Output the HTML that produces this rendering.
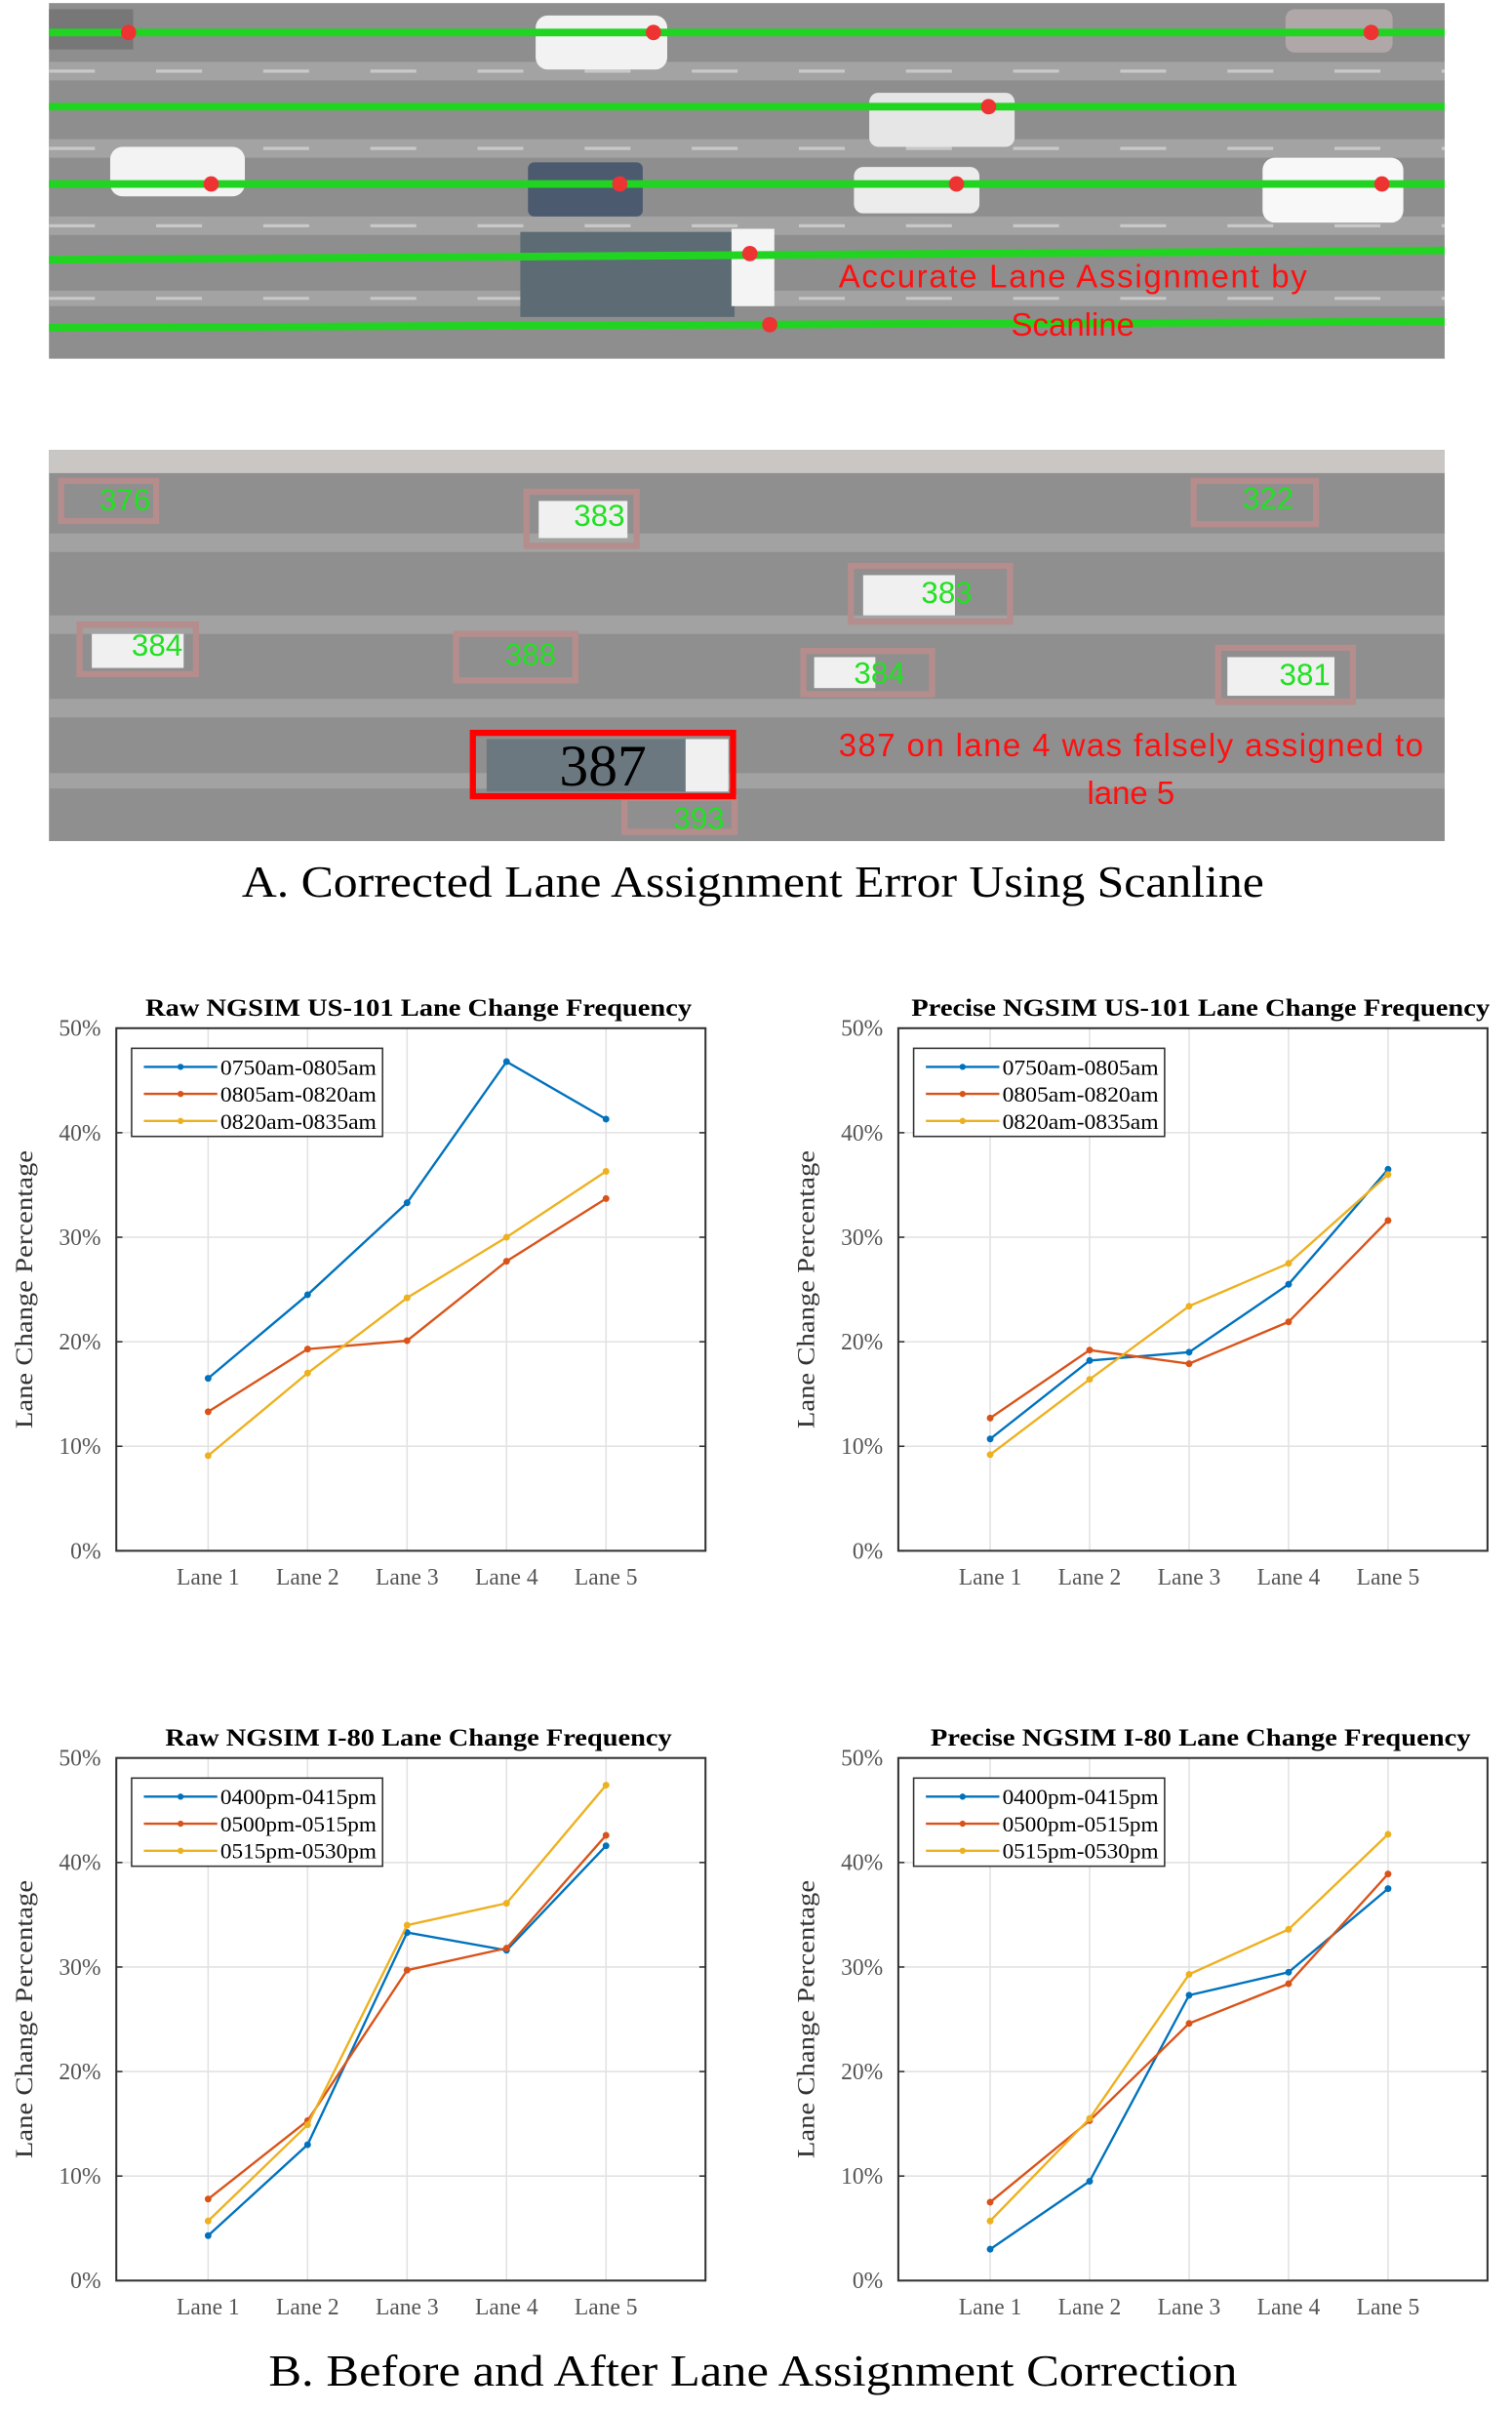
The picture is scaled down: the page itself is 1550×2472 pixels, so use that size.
<!DOCTYPE html>
<html><head><meta charset="utf-8"><style>
html,body{margin:0;padding:0;background:#fff;width:1550px;height:2472px;overflow:hidden}
svg{display:block}
</style></head><body>
<svg id="root" width="1550" height="2472" viewBox="0 0 988 1560" preserveAspectRatio="none" xmlns="http://www.w3.org/2000/svg">
<g id="photoA">
<rect x="32" y="2" width="912" height="230" fill="#8e8e8e"/>
<g fill="#a3a3a3">
<rect x="32" y="40" width="912" height="12"/><rect x="32" y="90" width="912" height="12"/><rect x="32" y="140" width="912" height="12"/><rect x="32" y="188" width="912" height="10"/>
</g>
<g stroke="#c8c8c8" stroke-width="2" stroke-dasharray="30 40">
<line x1="32" y1="46" x2="944" y2="46"/><line x1="32" y1="96" x2="944" y2="96"/><line x1="32" y1="146" x2="944" y2="146"/><line x1="32" y1="193" x2="944" y2="193"/>
</g>
<rect x="350" y="10" width="86" height="35" rx="8" fill="#f2f2f2"/>
<rect x="568" y="60" width="95" height="35" rx="6" fill="#e6e6e6"/>
<rect x="72" y="95" width="88" height="32" rx="8" fill="#f3f3f3"/>
<rect x="345" y="105" width="75" height="35" rx="4" fill="#4c5a70"/>
<rect x="558" y="108" width="82" height="30" rx="6" fill="#ececec"/>
<rect x="825" y="102" width="92" height="42" rx="8" fill="#f8f8f8"/>
<rect x="340" y="150" width="140" height="55" fill="#5d6c74"/>
<rect x="478" y="148" width="28" height="50" fill="#f4f4f4"/>
<rect x="840" y="6" width="70" height="28" rx="6" fill="#b0a8a8"/>
<rect x="32" y="6" width="55" height="26" fill="#777"/>
<g stroke="#22d422" stroke-width="5">
<line x1="32" y1="21" x2="944" y2="21"/><line x1="32" y1="69" x2="944" y2="69"/><line x1="32" y1="119" x2="944" y2="119"/><line x1="32" y1="168" x2="944" y2="162"/><line x1="32" y1="212" x2="944" y2="208"/>
</g>
<g fill="#e33">
<circle cx="84" cy="21" r="5"/><circle cx="427" cy="21" r="5"/><circle cx="896" cy="21" r="5"/><circle cx="646" cy="69" r="5"/><circle cx="138" cy="119" r="5"/><circle cx="405" cy="119" r="5"/><circle cx="625" cy="119" r="5"/><circle cx="903" cy="119" r="5"/><circle cx="490" cy="164" r="5"/><circle cx="503" cy="210" r="5"/>
</g>
<text x="701" y="186" font-family="Liberation Sans, sans-serif" font-size="21" fill="#ff1010" text-anchor="middle" textLength="306">Accurate Lane Assignment by</text>
<text x="701" y="217" font-family="Liberation Sans, sans-serif" font-size="21" fill="#ff1010" text-anchor="middle">Scanline</text>
</g>
<g id="photoB">
<rect x="32" y="291" width="912" height="253" fill="#8f8f8f"/>
<rect x="32" y="291" width="912" height="15" fill="#c9c6c4"/>
<g fill="#a2a2a2"><rect x="32" y="345" width="912" height="12"/><rect x="32" y="398" width="912" height="12"/><rect x="32" y="452" width="912" height="12"/><rect x="32" y="500" width="912" height="10"/></g>
<g fill="none" stroke="#b58d8d" stroke-width="4">
<rect x="40" y="311" width="62" height="26"/><rect x="344" y="318" width="72" height="35"/><rect x="780" y="311" width="80" height="28"/><rect x="556" y="366" width="104" height="36"/><rect x="52" y="404" width="76" height="32"/><rect x="298" y="410" width="78" height="30"/><rect x="525" y="421" width="84" height="28"/><rect x="796" y="419" width="88" height="35"/><rect x="408" y="516" width="72" height="22"/>
</g>
<g fill="#f0f0f0"><rect x="352" y="324" width="58" height="24"/><rect x="564" y="372" width="60" height="26"/><rect x="60" y="410" width="60" height="22"/><rect x="532" y="425" width="40" height="20"/><rect x="802" y="425" width="70" height="25"/></g>
<g font-family="Liberation Sans, sans-serif" font-size="20" fill="#22e022">
<text x="65" y="330">376</text><text x="375" y="340">383</text><text x="812" y="329">322</text><text x="602" y="390">383</text><text x="86" y="424">384</text><text x="330" y="430">388</text><text x="558" y="442">384</text><text x="836" y="443">381</text><text x="440" y="536">393</text>
</g>
<rect x="318" y="478" width="158" height="34" fill="#6c7880"/><rect x="448" y="478" width="28" height="34" fill="#f0f0f0"/>
<rect x="309" y="474" width="170" height="41" fill="none" stroke="#f00" stroke-width="4"/>
<text x="394" y="508" font-family="Liberation Serif, serif" font-size="38" fill="#000" text-anchor="middle">387</text>
<text x="739" y="489" font-family="Liberation Sans, sans-serif" font-size="21" fill="#ff1010" text-anchor="middle" textLength="382">387 on lane 4 was falsely assigned to</text>
<text x="739" y="520" font-family="Liberation Sans, sans-serif" font-size="21" fill="#ff1010" text-anchor="middle">lane 5</text>
</g>
<text x="492" y="580" font-family="Liberation Serif, serif" font-size="29" text-anchor="middle" textLength="668" lengthAdjust="spacingAndGlyphs">A. Corrected Lane Assignment Error Using Scanline</text>
<text x="492" y="1543" font-family="Liberation Serif, serif" font-size="29" text-anchor="middle" textLength="633" lengthAdjust="spacingAndGlyphs">B.  Before and After Lane Assignment Correction</text>
<g id="charts"></g>
</svg>
<script>
const lanes = ["Lane 1","Lane 2","Lane 3","Lane 4","Lane 5"];
const yTicks = [0,10,20,30,40,50];
const colors = ["#0072BD","#D95319","#EDB120"];
const titles = ["Raw NGSIM US-101 Lane Change Frequency","Precise NGSIM US-101 Lane Change Frequency","Raw NGSIM I-80 Lane Change Frequency","Precise NGSIM I-80 Lane Change Frequency"];
const titleLens = [357,378,331,353];
const legendAM = ["0750am-0805am","0805am-0820am","0820am-0835am"];
const legendPM = ["0400pm-0415pm","0500pm-0515pm","0515pm-0530pm"];
const raw101Blue = [16.5,24.5,33.3,46.8,41.3];
const raw101Orange = [13.3,19.3,20.1,27.7,33.7];
const raw101Yellow = [9.1,17.0,24.2,30.0,36.3];
const pre101Blue = [10.7,18.2,19.0,25.5,36.5];
const pre101Orange = [12.7,19.2,17.9,21.9,31.6];
const pre101Yellow = [9.2,16.4,23.4,27.5,36.0];
const rawI80Blue = [4.3,13.0,33.3,31.6,41.6];
const rawI80Orange = [7.8,15.3,29.7,31.8,42.6];
const rawI80Yellow = [5.7,14.9,34.0,36.1,47.4];
const preI80Blue = [3.0,9.5,27.3,29.5,37.5];
const preI80Orange = [7.5,15.3,24.6,28.4,38.9];
const preI80Yellow = [5.7,15.5,29.3,33.6,42.7];

const NS="http://www.w3.org/2000/svg";
function mk(tag, attrs, parent){const e=document.createElementNS(NS,tag);for(const k in attrs)e.setAttribute(k,attrs[k]);parent.appendChild(e);return e;}
const root=document.getElementById('charts');
const panels=[
 {x:76,y:665,series:[raw101Blue,raw101Orange,raw101Yellow],leg:legendAM,name:'raw-us101-chart'},
 {x:587,y:665,series:[pre101Blue,pre101Orange,pre101Yellow],leg:legendAM,name:'precise-us101-chart'},
 {x:76,y:1137,series:[rawI80Blue,rawI80Orange,rawI80Yellow],leg:legendPM,name:'raw-i80-chart'},
 {x:587,y:1137,series:[preI80Blue,preI80Orange,preI80Yellow],leg:legendPM,name:'precise-i80-chart'}];
const W=385,H=338;
panels.forEach((p,pi)=>{
 const g=mk('g',{},root);
 
 
 const xs=i=>p.x+60+i*65;
 const ys=v=>p.y+H-v/50*H;
 const serif="Liberation Serif, serif";
 yTicks.forEach(t=>{
  const yy=ys(t);
  if(t>0&&t<50){const gl=mk('line',{x1:p.x,x2:p.x+W,y1:yy,y2:yy,stroke:'#e2e2e2','stroke-width':1},g);
   
   }
  const tl=mk('text',{x:p.x-10,y:yy+5,'font-family':serif,'font-size':15,fill:'#555','text-anchor':'end'},g);
  tl.textContent=t+'%';
  
  
  mk('line',{x1:p.x,x2:p.x+4,y1:yy,y2:yy,stroke:'#333'},g);
  mk('line',{x1:p.x+W-4,x2:p.x+W,y1:yy,y2:yy,stroke:'#333'},g);
 });
 lanes.forEach((l,i)=>{
  const xx=xs(i);
  mk('line',{x1:xx,x2:xx,y1:p.y,y2:p.y+H,stroke:'#e2e2e2','stroke-width':1},g);
  const tl=mk('text',{x:xx,y:p.y+H+22,'font-family':serif,'font-size':15,fill:'#555','text-anchor':'middle'},g);
  tl.textContent=l;
  
  
 });
 const box=mk('rect',{x:p.x,y:p.y,width:W,height:H,fill:'none',stroke:'#333','stroke-width':1.3},g);
 
 
 const tt=mk('text',{x:p.x+W/2+5,y:p.y-8,'font-family':serif,'font-size':16,'font-weight':'bold','text-anchor':'middle',textLength:titleLens[pi],lengthAdjust:'spacingAndGlyphs'},g);
 tt.textContent=titles[pi];
 
 
 const yl=mk('text',{x:0,y:0,'font-family':serif,'font-size':16,fill:'#333','text-anchor':'middle',textLength:180,lengthAdjust:'spacingAndGlyphs',transform:`translate(${p.x-55},${p.y+H/2}) rotate(-90)`},g);
 yl.textContent='Lane Change Percentage';
 
 
 p.series.forEach((s,si)=>{
  const pts=s.map((v,i)=>xs(i)+','+ys(v)).join(' ');
  const pl=mk('polyline',{points:pts,fill:'none',stroke:colors[si],'stroke-width':1.5},g);
  
  
  s.forEach((v,i)=>{const c=mk('circle',{cx:xs(i),cy:ys(v),r:2.2,fill:colors[si]},g);
   
   });
 });
 const lg=mk('g',{},g);
 
 
 mk('rect',{x:p.x+10,y:p.y+13,width:164,height:57,fill:'#fff',stroke:'#333','stroke-width':1},lg);
 p.leg.forEach((l,li)=>{
  const yy=p.y+25+li*17.5;
  mk('line',{x1:p.x+18,x2:p.x+66,y1:yy,y2:yy,stroke:colors[li],'stroke-width':1.5},lg);
  mk('circle',{cx:p.x+42,cy:yy,r:2,fill:colors[li]},lg);
  const t=mk('text',{x:p.x+68,y:yy+5,'font-family':serif,'font-size':14,textLength:102,lengthAdjust:'spacingAndGlyphs'},lg);
  t.textContent=l;
  
  
 });
});
</script>
</body></html>
